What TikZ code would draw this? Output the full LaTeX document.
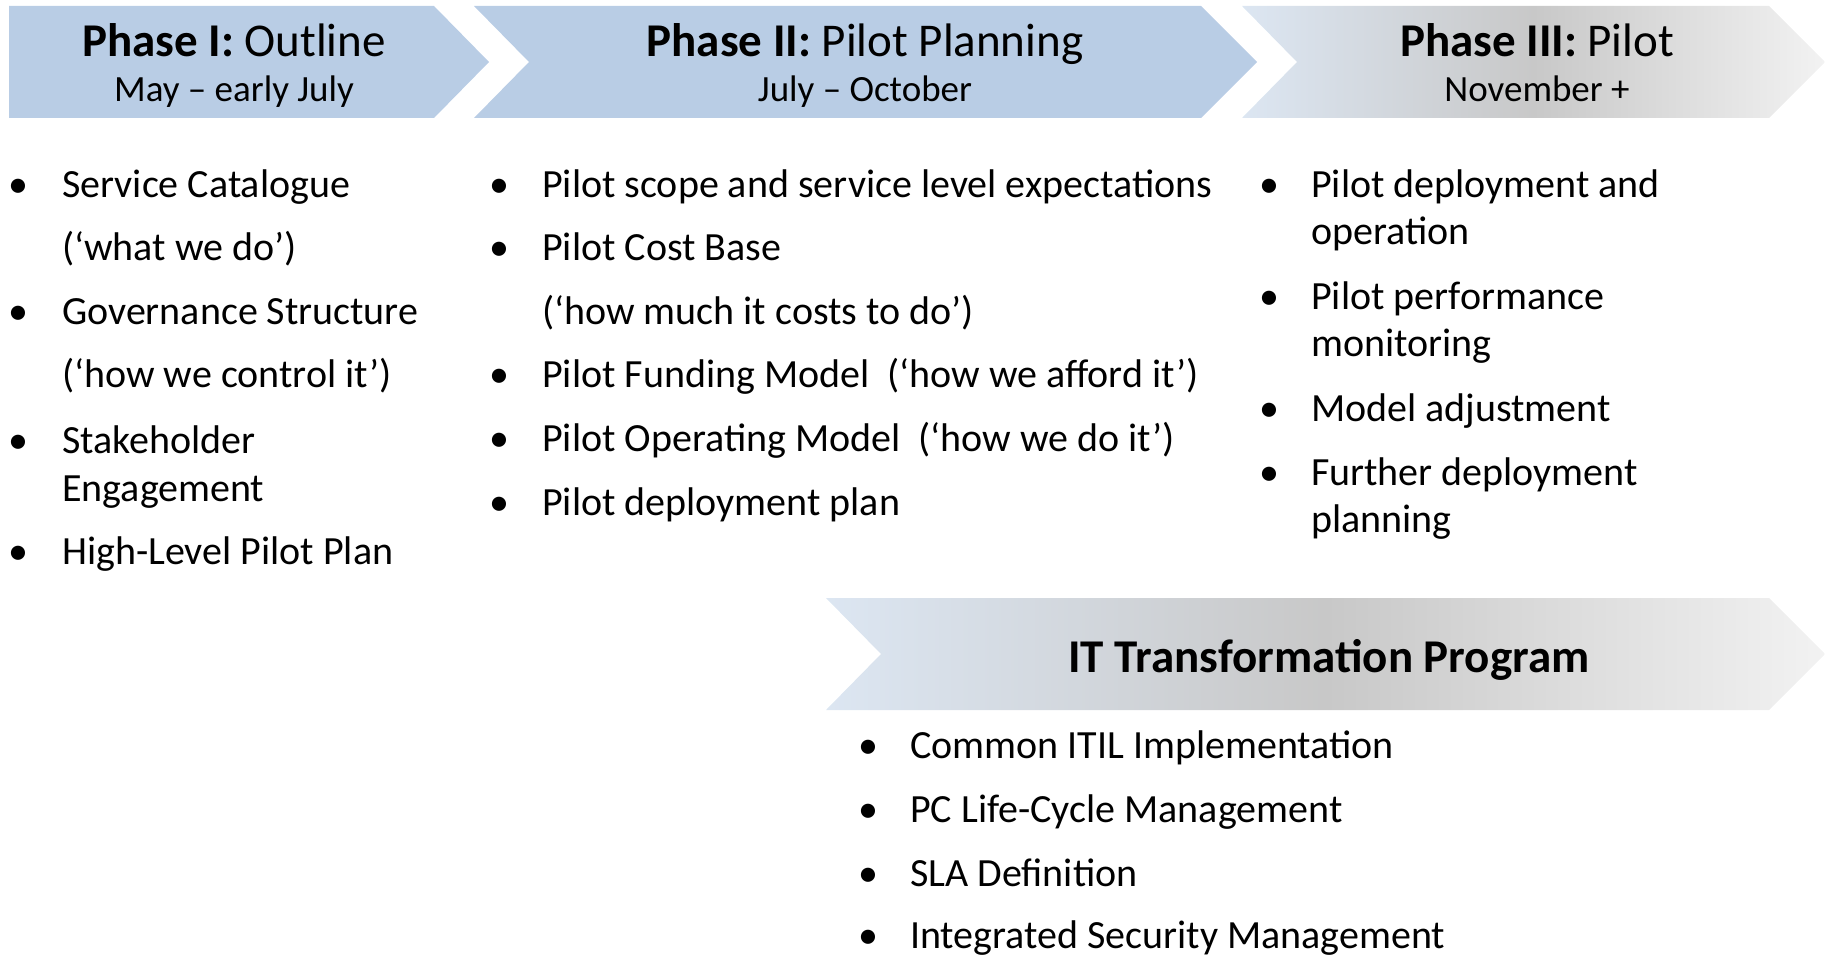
\documentclass[tikz,border=0pt]{standalone}
\usepackage{fontspec}
\setmainfont{Carlito}
\definecolor{chevblue}{HTML}{B9CDE5}
\definecolor{gleft}{HTML}{DCE6F2}
\definecolor{gmid}{HTML}{C8C8C8}
\definecolor{gright}{HTML}{F2F2F2}
\begin{document}
\begin{tikzpicture}[x=1pt,y=-1pt,
  body/.style={font=\fontsize{40}{48}\selectfont, anchor=base west, inner sep=0pt},
  bul/.style={font=\fontsize{40}{48}\selectfont, anchor=base, inner sep=0pt},
  ttl/.style={font=\fontsize{47}{56}\selectfont, anchor=base, inner sep=0pt},
  sub/.style={font=\fontsize{37}{44}\selectfont, anchor=base, inner sep=0pt},
  greyshade/.style={left color=gleft, right color=gright, middle color=gmid}]
\useasboundingbox (0,0) rectangle (1825,955);
% chevrons
\fill[chevblue] (9,6) -- (434,6) -- (489,62) -- (434,118) -- (9,118) -- cycle;
\fill[chevblue] (474,6) -- (1201,6) -- (1257,62) -- (1201,118) -- (474,118) -- (529,62) -- cycle;
\shade[greyshade] (1242,6) -- (1769,6) -- (1825,62) -- (1769,118) -- (1242,118) -- (1297,62) -- cycle;
\shade[greyshade] (826,598) -- (1769,598) -- (1825,654) -- (1769,710) -- (826,710) -- (881,654) -- cycle;
% titles
\node[ttl] (t1) at (234,57) {\textbf{Phase I:} Outline};
\node[sub] (s1) at (234,102) {May – early July};
\node[ttl] (t2) at (865,57) {\textbf{Phase II:} Pilot Planning};
\node[sub] (s2) at (865,102) {July – October};
\node[ttl] (t3) at (1537,57) {\textbf{Phase III:} Pilot};
\node[sub] (s3) at (1537,102) {November +};
\node[ttl] (t4) at (1329,672) {\textbf{IT Transformation Program}};
% column 1
\node[bul] (b1a) at (18,197) {•};
\node[body] (c1a) at (62,197) {Service Catalogue};
\node[body] (c1b) at (62,260) {(‘what we do’)};
\node[bul] (b1c) at (18,324) {•};
\node[body] (c1c) at (62,324) {Governance Structure};
\node[body] (c1d) at (62,387) {(‘how we control it’)};
\node[bul] (b1e) at (18,453) {•};
\node[body] (c1e) at (62,453) {Stakeholder};
\node[body] (c1f) at (62,501) {Engagement};
\node[bul] (b1g) at (18,564) {•};
\node[body] (c1g) at (62,564) {High-Level Pilot Plan};
% column 2
\node[bul] (b2a) at (499,197) {•};
\node[body] (c2a) at (542,197) {Pilot scope and service level expectations};
\node[bul] (b2b) at (499,260) {•};
\node[body] (c2b) at (542,260) {Pilot Cost Base};
\node[body] (c2c) at (542,324) {(‘how much it costs to do’)};
\node[bul] (b2d) at (499,387) {•};
\node[body] (c2d) at (542,387) {Pilot Funding Model\ \ (‘how we afford it’)};
\node[bul] (b2e) at (499,451) {•};
\node[body] (c2e) at (542,451) {Pilot Operating Model\ \ (‘how we do it’)};
\node[bul] (b2f) at (499,515) {•};
\node[body] (c2f) at (542,515) {Pilot deployment plan};
% column 3
\node[bul] (b3a) at (1269,197) {•};
\node[body] (c3a) at (1311,197) {Pilot deployment and};
\node[body] (c3b) at (1311,244) {operation};
\node[bul] (b3c) at (1269,309) {•};
\node[body] (c3c) at (1311,309) {Pilot performance};
\node[body] (c3d) at (1311,356) {monitoring};
\node[bul] (b3e) at (1269,421) {•};
\node[body] (c3e) at (1311,421) {Model adjustment};
\node[bul] (b3f) at (1269,485) {•};
\node[body] (c3f) at (1311,485) {Further deployment};
\node[body] (c3g) at (1311,532) {planning};
% column 4
\node[bul] (b4a) at (868,758) {•};
\node[body] (c4a) at (910,758) {Common ITIL Implementation};
\node[bul] (b4b) at (868,822) {•};
\node[body] (c4b) at (910,822) {PC Life-Cycle Management};
\node[bul] (b4c) at (868,886) {•};
\node[body] (c4c) at (910,886) {SLA Definition};
\node[bul] (b4d) at (868,948) {•};
\node[body] (c4d) at (910,948) {Integrated Security Management};
\end{tikzpicture}
\end{document}
